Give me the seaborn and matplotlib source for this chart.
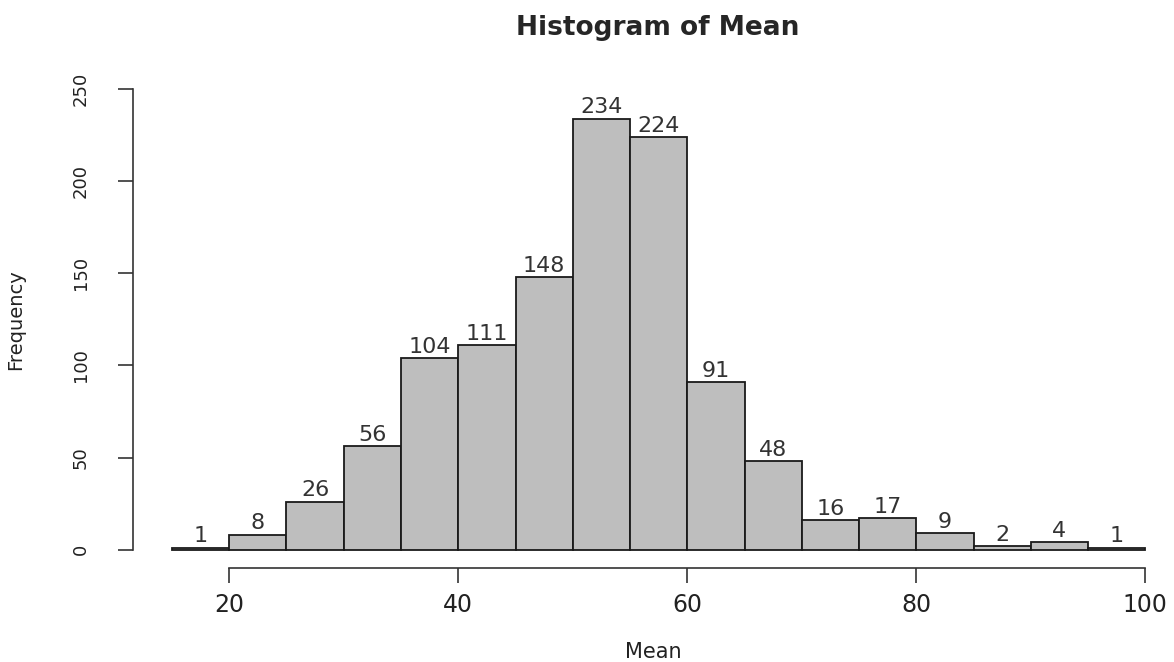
import matplotlib
matplotlib.use("Agg")
import matplotlib.pyplot as plt
import numpy as np
import seaborn as sns

# bin edges and frequencies of the "Mean" histogram
bin_edges = [15, 20, 25, 30, 35, 40, 45, 50, 55, 60, 65, 70, 75, 80, 85, 90, 95, 100]
counts = [1, 8, 26, 56, 104, 111, 148, 234, 224, 91, 48, 16, 17, 9, 2, 4, 1]
x_ticks = [20, 40, 60, 80, 100]
y_ticks = [0, 50, 100, 150, 200, 250]

sns.set_style("white")
plt.rcParams['font.family'] = ['DejaVu Sans']

centers = [(a + b) / 2 for a, b in zip(bin_edges[:-1], bin_edges[1:])]

fig = plt.figure(figsize=(11.74, 6.62), dpi=100)
ax = fig.add_axes([0.1133, 0.142, 0.8867, 0.751])

sns.histplot(x=centers, weights=counts, bins=bin_edges, color="#bebebe",
             edgecolor="#1a1a1a", linewidth=1.3, alpha=1, ax=ax)

ax.bar_label(ax.containers[0], fmt="%d", padding=1, fontsize=16, color="#333333")

ax.set_xlim(11.6, 102.5)
ax.set_ylim(-10, 260)

for s in ["top", "right"]:
    ax.spines[s].set_visible(False)
ax.spines["left"].set_bounds(0, 250)
ax.spines["bottom"].set_bounds(20, 100)
for s in ["left", "bottom"]:
    ax.spines[s].set_color("#333333")
    ax.spines[s].set_linewidth(1.2)

ax.set_xticks(x_ticks)
ax.set_yticks(y_ticks)
ax.tick_params(axis="both", direction="out", length=11, width=1.2, color="#333333",
               left=True, bottom=True)
ax.tick_params(axis="x", labelsize=17, pad=7, labelcolor="#222222")
ax.tick_params(axis="y", labelsize=13, pad=20, labelcolor="#222222")
for lab in ax.get_yticklabels():
    lab.set_rotation(90)
    lab.set_va("center")

ax.set_xlabel("Mean", fontsize=15, labelpad=18, color="#222222")
ax.set_ylabel("Frequency", fontsize=14, labelpad=34, color="#222222")
fig.suptitle("Histogram of Mean", fontsize=19, fontweight="bold", y=0.978, x=0.56)

fig.savefig("out.png", dpi=100)
